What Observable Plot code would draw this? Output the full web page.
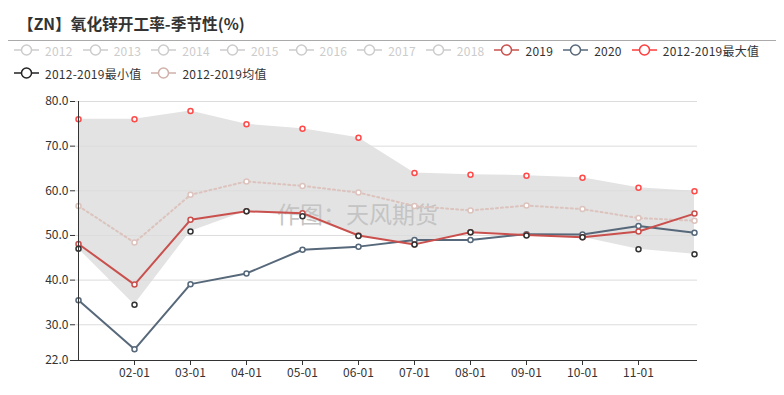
<!DOCTYPE html>
<html>
<head>
<meta charset="utf-8">
<script src="https://cdn.jsdelivr.net/npm/d3@7"></script>
<script src="https://cdn.jsdelivr.net/npm/@observablehq/plot@0.6"></script>
<style>
  html, body { margin: 0; padding: 0; background: #fff; }
  body { width: 784px; height: 395px; position: relative; overflow: hidden;
         font-family: "Noto Sans CJK SC", "Noto Sans", sans-serif; }
  #title { position: absolute; left: 18px; top: 12px; font-size: 15.7px; font-weight: bold; color: #333; }
  #rule { position: absolute; left: 8px; top: 40px; width: 768px; height: 1px; background: #aaa; }
  .row { position: absolute; left: 14px; display: flex; align-items: center; font-size: 12px; height: 16px; letter-spacing: 0.25px; }
  .item { display: flex; align-items: center; margin-right: 10px; }
  .item svg { margin-right: 6px; }
  #chart { position: absolute; left: 0; top: 85px; }
</style>
</head>
<body>
<div id="title">【ZN】氧化锌开工率-季节性(%)</div>
<div id="rule"></div>
<div class="row" id="leg1" style="top:42px"></div>
<div class="row" id="leg2" style="top:65px"></div>
<div id="chart"></div>
<script>
const months = ["01-01","02-01","03-01","04-01","05-01","06-01","07-01","08-01","09-01","10-01","11-01","12-01"];
const y2019 = [48.1, 39.0, 53.5, 55.4, 55.0, 50.0, 48.0, 50.7, 50.1, 49.6, 50.9, 54.9];
const y2020 = [35.5, 24.5, 39.1, 41.5, 46.8, 47.5, 49.0, 49.0, 50.3, 50.2, 52.1, 50.6];
const maxVals = [76.0, 76.0, 77.9, 74.9, 73.9, 71.9, 64.0, 63.6, 63.4, 62.9, 60.7, 59.9];
const minVals = [47.0, 34.5, 50.9, 55.4, 54.3, 49.9, 48.0, 50.7, 50.0, 49.6, 46.9, 45.8];
const meanVals = [56.6, 48.4, 59.1, 62.1, 61.1, 59.6, 56.6, 55.6, 56.7, 55.9, 53.9, 53.3];
const yTicks = [22, 30, 40, 50, 60, 70, 80];
const xTicks = ["02-01","03-01","04-01","05-01","06-01","07-01","08-01","09-01","10-01","11-01"];
const legendRow1 = [
  ["2012", "#ccc", false], ["2013", "#ccc", false], ["2014", "#ccc", false], ["2015", "#ccc", false],
  ["2016", "#ccc", false], ["2017", "#ccc", false], ["2018", "#ccc", false],
  ["2019", "#c9504d", true], ["2020", "#56687a", true], ["2012-2019最大值", "#ff3b3b", true]
];
const legendRow2 = [["2012-2019最小值", "#222", true], ["2012-2019均值", "#cfb1aa", true]];
const watermark = "作图：天风期货";

const colors = { y2019: "#c9504d", y2020: "#56687a", max: "#ff4a4a", min: "#333", mean: "#dcc3bd" };

function buildLegend(el, items) {
  for (const [name, color, active] of items) {
    const it = document.createElement("div");
    it.className = "item";
    it.innerHTML = `<svg width="25" height="14"><line x1="0" y1="7" x2="25" y2="7" stroke="${color}" stroke-width="1.5"/>` +
      `<circle cx="12.5" cy="7" r="5" fill="#fff" stroke="${color}" stroke-width="1.5"/></svg>` +
      `<span style="color:${active ? "#333" : "#ccc"}">${name}</span>`;
    el.appendChild(it);
  }
}
buildLegend(document.getElementById("leg1"), legendRow1);
buildLegend(document.getElementById("leg2"), legendRow2);

const data = months.map((m, i) => ({
  m, a: y2019[i], b: y2020[i], max: maxVals[i], min: minVals[i], mean: meanVals[i]
}));

const dots = (key, color) => Plot.dot(data, {x: "m", y: key, r: 2.5, fill: "#fff", stroke: color, strokeWidth: 1.5});

const chart = Plot.plot({
  width: 784,
  height: 310,
  marginLeft: 75,
  marginRight: 87,
  marginTop: 16,
  marginBottom: 35,
  style: { fontFamily: "'Noto Sans CJK SC', sans-serif", fontSize: "12px", color: "#333", background: "transparent" },
  x: { type: "point", domain: months, padding: 0 },
  y: { domain: [22, 80] },
  marks: [
    Plot.areaY(data, {x: "m", y1: "min", y2: "max", fill: "#e3e3e3"}),
    Plot.gridY([30, 40, 50, 60, 70, 80], {stroke: "#dcdcdc", strokeOpacity: 1}),
    Plot.text([watermark], {frameAnchor: "middle", dx: -29, dy: -15, fontSize: 23, fill: "#c4c4c4"}),
    Plot.line(data, {x: "m", y: "mean", stroke: colors.mean, strokeWidth: 2, strokeDasharray: "2,3"}),
    Plot.line(data, {x: "m", y: "b", stroke: colors.y2020, strokeWidth: 2}),
    Plot.line(data, {x: "m", y: "a", stroke: colors.y2019, strokeWidth: 2}),
    dots("mean", colors.mean),
    dots("b", colors.y2020),
    dots("a", colors.y2019),
    dots("max", colors.max),
    dots("min", colors.min),
    Plot.ruleY([22], {stroke: "#333", strokeWidth: 1}),
    Plot.ruleX(["01-01"], {stroke: "#333", strokeWidth: 1}),
    Plot.axisY(yTicks, {tickFormat: d3.format(".1f"), tickSize: 5, tickPadding: 2, fontSize: 12, label: null, stroke: "#333", fill: "#333"}),
    Plot.axisX(xTicks, {tickSize: 5, tickPadding: 3, fontSize: 12, label: null, stroke: "#333", fill: "#333"})
  ]
});
document.getElementById("chart").appendChild(chart);
</script>
</body>
</html>
